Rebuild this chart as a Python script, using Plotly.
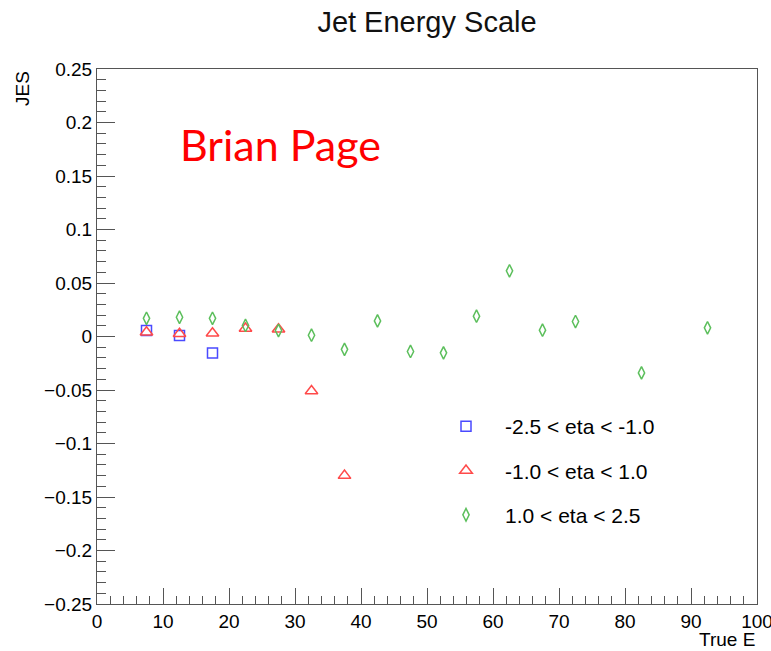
import plotly.graph_objects as go

# Jet energy scale vs true jet energy, three pseudorapidity bins
e_bins = [7.5, 12.5, 17.5, 22.5, 27.5, 32.5, 37.5, 42.5, 47.5, 52.5,
          57.5, 62.5, 67.5, 72.5, 82.5, 92.5]

e_back = e_bins[:3]
jes_back = [0.0055, 0.001, -0.0155]

e_mid = e_bins[:7]
jes_mid = [0.004, 0.0025, 0.003, 0.0075, 0.0068, -0.051, -0.130]

e_fwd = e_bins
jes_fwd = [0.017, 0.018, 0.017, 0.0103, 0.0056, 0.0012, -0.012, 0.0146,
           -0.014, -0.0153, 0.019, 0.0614, 0.0059, 0.014, -0.034, 0.0081]

series = [
    ("-2.5 < eta < -1.0", e_back, jes_back, "square-open", "#4a4aff", 10),
    ("-1.0 < eta < 1.0", e_mid, jes_mid, "triangle-up-open", "#ff4a4a", 11),
    ("1.0 < eta < 2.5", e_fwd, jes_fwd, "diamond-tall-open", "#5cbf5c", 9),
]

fig = go.Figure()
for i, (name, xs, ys, sym, col, sz) in enumerate(series):
    fig.add_trace(go.Scatter(
        x=xs, y=ys, mode="markers", name=name, legendgroup=f"g{i}",
        marker=dict(symbol=sym, color=col, size=sz, line=dict(width=1.5, color=col)),
    ))

font_main = "Liberation Sans, Arial, sans-serif"
axis_col = "#555555"

fig.update_layout(
    width=771, height=651,
    margin=dict(l=97, r=14, t=69, b=47, autoexpand=False),
    plot_bgcolor="white", paper_bgcolor="white",
    font=dict(family=font_main, color="black", size=19),
    title=dict(text="Jet Energy Scale", x=0.5, xref="paper", xanchor="center",
               y=1 - 22 / 651, yanchor="middle", yref="container",
               font=dict(size=29, family=font_main, color="#111111")),
    showlegend=True,
    legend=dict(x=0.5, y=0.37, xanchor="left", yanchor="top",
                bgcolor="rgba(0,0,0,0)", font=dict(size=21, family=font_main),
                itemwidth=68, tracegroupgap=14),
    annotations=[dict(text="Brian Page", xref="paper", yref="paper",
                      x=0.123, y=0.858, xanchor="left", yanchor="middle",
                      showarrow=False,
                      font=dict(family="Lato, Noto Sans, sans-serif", size=43, color="#ff0000")),
                 dict(text="JES", xref="paper", yref="paper", x=-0.113, y=1.0,
                      xanchor="center", yanchor="top", textangle=-90, showarrow=False,
                      font=dict(size=19, family=font_main)),
                 dict(text="True E", xref="paper", yref="paper", x=1.0, y=-0.067,
                      xanchor="right", yanchor="middle", showarrow=False,
                      font=dict(size=19, family=font_main))],
)

fig.update_xaxes(
    range=[0, 100], dtick=10, tick0=0, showgrid=False, zeroline=False,
    showline=True, linecolor=axis_col, linewidth=1, mirror=True,
    ticks="inside", ticklen=16, tickcolor=axis_col, tickwidth=1,
    minor=dict(dtick=2, ticks="inside", ticklen=8, tickcolor=axis_col, showgrid=False),
    tickfont=dict(size=19), ticklabeloverflow="allow", automargin=False,
)
fig.update_yaxes(
    range=[-0.25, 0.25], dtick=0.05, tick0=0, showgrid=False, zeroline=False,
    showline=True, linecolor=axis_col, linewidth=1, mirror=True,
    ticks="inside", ticklen=18, tickcolor=axis_col, tickwidth=1,
    minor=dict(dtick=0.01, ticks="inside", ticklen=9, tickcolor=axis_col, showgrid=False),
    tickfont=dict(size=19), ticklabelstandoff=0, automargin=False,
)

fig.write_html("out.html")
